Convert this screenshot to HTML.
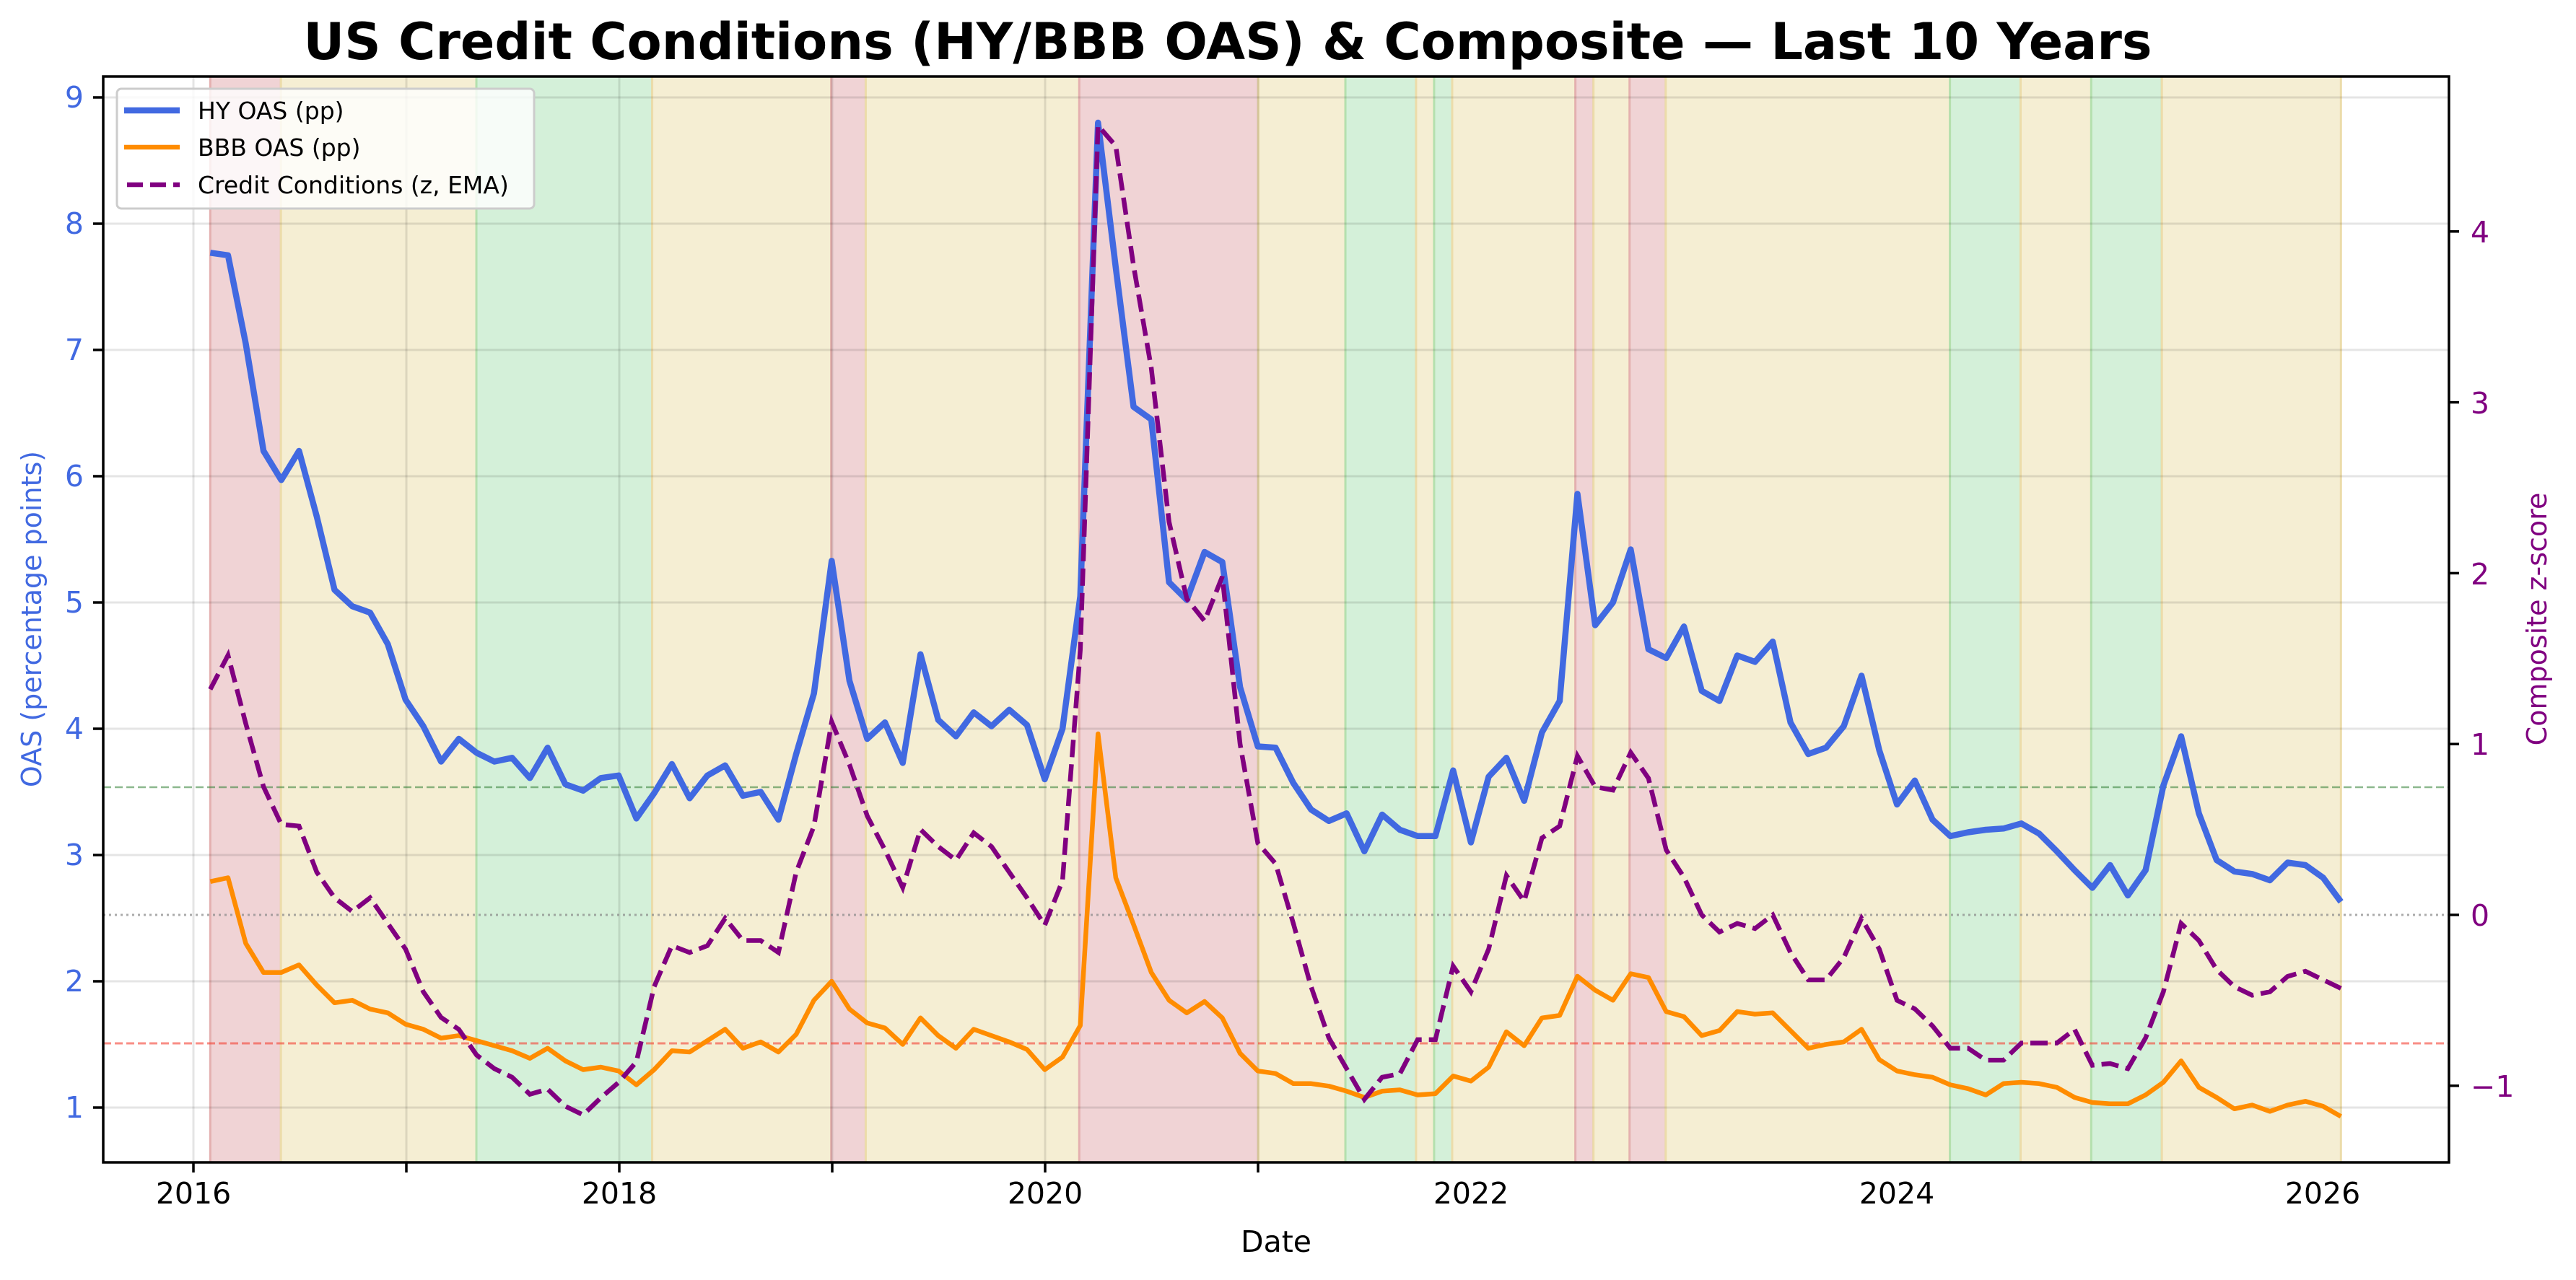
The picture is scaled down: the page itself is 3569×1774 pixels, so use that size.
<!DOCTYPE html>
<html><head><meta charset="utf-8"><style>
html,body{margin:0;padding:0;background:#fff;}
svg{display:block;font-family:"DejaVu Sans","Liberation Sans",sans-serif;}
</style></head><body>
<svg id="s" width="3569" height="1774" viewBox="0 0 3569 1774" xmlns="http://www.w3.org/2000/svg">
<rect width="3569" height="1774" fill="#fff"/>
<g id="bands"></g>
<g id="grid" stroke="#000" stroke-opacity="0.1" stroke-width="3"></g>
<line x1="143" y1="1091" x2="3393" y2="1091" stroke="#2e7d32" stroke-opacity="0.55" stroke-width="2.5" stroke-dasharray="11,5"/>
<line x1="143" y1="1268" x2="3393" y2="1268" stroke="#888" stroke-opacity="0.7" stroke-width="3" stroke-dasharray="3,5"/>
<line x1="143" y1="1446" x2="3393" y2="1446" stroke="#f44336" stroke-opacity="0.6" stroke-width="3" stroke-dasharray="11,5"/>
<g id="lines"></g>
<rect x="143" y="106" width="3250" height="1505" fill="none" stroke="#000" stroke-width="3.5"/>
<g id="ticks" stroke="#000" stroke-width="3.5"></g>
<g font-size="41" fill="#4169e1" text-anchor="end">
<text x="116" y="149">9</text><text x="116" y="324">8</text><text x="116" y="499">7</text><text x="116" y="674">6</text><text x="116" y="849">5</text><text x="116" y="1024">4</text><text x="116" y="1199">3</text><text x="116" y="1374">2</text><text x="116" y="1549">1</text>
</g>
<g font-size="41" fill="#800080">
<text x="3423" y="336">4</text><text x="3423" y="573">3</text><text x="3423" y="810">2</text><text x="3423" y="1046">1</text><text x="3423" y="1283">0</text><text x="3423" y="1520">−1</text>
</g>
<g font-size="41" fill="#000" text-anchor="middle">
<text x="268" y="1668">2016</text><text x="858" y="1668">2018</text><text x="1448" y="1668">2020</text><text x="2038" y="1668">2022</text><text x="2628" y="1668">2024</text><text x="3218" y="1668">2026</text>
<text x="1768" y="1735">Date</text>
</g>
<text x="1701" y="82" font-size="70" font-weight="bold" text-anchor="middle" fill="#000">US Credit Conditions (HY/BBB OAS) &amp; Composite — Last 10 Years</text>
<text transform="translate(57,858) rotate(-90)" font-size="38" fill="#4169e1" text-anchor="middle">OAS (percentage points)</text>
<text transform="translate(3528,858) rotate(-90)" font-size="38" fill="#800080" text-anchor="middle">Composite z-score</text>
<g>
<rect x="162" y="123" width="578" height="166" rx="6" fill="#fff" fill-opacity="0.8" stroke="#ccc" stroke-width="3"/>
<line x1="172" y1="153" x2="249" y2="153" stroke="#4169e1" stroke-width="8.5"/>
<line x1="172" y1="204" x2="249" y2="204" stroke="#ff8c00" stroke-width="6.5"/>
<line x1="176" y1="256" x2="249" y2="256" stroke="#800080" stroke-width="6.5" stroke-dasharray="22,10"/>
<g font-size="33" fill="#000"><text x="274" y="165">HY OAS (pp)</text><text x="274" y="216">BBB OAS (pp)</text><text x="274" y="268">Credit Conditions (z, EMA)</text></g>
</g>
</svg>
<script>
var NS="http://www.w3.org/2000/svg";
function el(p,t,a){var e=document.createElementNS(NS,t);for(var k in a)e.setAttribute(k,a[k]);document.getElementById(p).appendChild(e);return e;}
var S=2.276;
var bands=[[128,171,'r'],[171,290,'y'],[290,397,'g'],[397,506,'y'],[506,527,'r'],[527,657,'y'],[657,766,'r'],[766,819,'y'],[819,862,'g'],[862,873,'y'],[873,884,'g'],[884,959,'y'],[959,970,'r'],[970,992,'y'],[992,1014,'r'],[1014,1187,'y'],[1187,1230,'g'],[1230,1273,'y'],[1273,1316,'g'],[1316,1425,'y']];
var fc={r:'#f0d3d5',y:'#f5eed3',g:'#d4f0d9'},ec={r:'#e4b0b0',y:'#ecdcaa',g:'#b4e0ae'};
bands.forEach(function(b){var x1=b[0]*S,x2=b[1]*S;el('bands','rect',{x:x1,y:106,width:x2-x1,height:1505,fill:fc[b[2]]});
el('bands','line',{x1:x1,y1:106,x2:x1,y2:1611,stroke:ec[b[2]],'stroke-width':3});el('bands','line',{x1:x2,y1:106,x2:x2,y2:1611,stroke:ec[b[2]],'stroke-width':3});});
for(var i=0;i<6;i++){var x=268+i*295;el('grid','line',{x1:x,y1:106,x2:x,y2:1611});el('ticks','line',{x1:x,y1:1611,x2:x,y2:1625});}
for(var v=1;v<=9;v++){var y=135+(9-v)*175;el('grid','line',{x1:143,y1:y,x2:3393,y2:y});el('ticks','line',{x1:129,y1:y,x2:143,y2:y});}
for(var z=-1;z<=4;z++){var y=1268-236.8*z;el('ticks','line',{x1:3393,y1:y,x2:3407,y2:y});}
var hy=[7.77,7.75,7.05,6.2,5.97,6.2,5.68,5.1,4.97,4.92,4.67,4.23,4.02,3.74,3.92,3.81,3.74,3.77,3.61,3.85,3.56,3.51,3.61,3.63,3.29,3.49,3.72,3.45,3.63,3.71,3.47,3.5,3.28,3.8,4.28,5.33,4.38,3.92,4.05,3.73,4.59,4.07,3.94,4.13,4.02,4.15,4.03,3.6,4.0,5.05,8.8,7.65,6.55,6.45,5.16,5.02,5.4,5.32,4.33,3.86,3.85,3.57,3.36,3.27,3.33,3.03,3.32,3.2,3.15,3.15,3.67,3.1,3.62,3.77,3.43,3.97,4.22,5.86,4.82,5.0,5.42,4.63,4.56,4.81,4.3,4.22,4.58,4.53,4.69,4.05,3.8,3.85,4.02,4.42,3.83,3.4,3.59,3.28,3.15,3.18,3.2,3.21,3.25,3.17,3.03,2.88,2.74,2.92,2.68,2.88,3.55,3.94,3.33,2.96,2.87,2.85,2.8,2.94,2.92,2.82,2.63];
var bbb=[2.79,2.82,2.3,2.07,2.07,2.13,1.97,1.83,1.85,1.78,1.75,1.66,1.62,1.55,1.57,1.53,1.49,1.45,1.39,1.47,1.37,1.3,1.32,1.29,1.18,1.3,1.45,1.44,1.53,1.62,1.47,1.52,1.44,1.58,1.85,2.0,1.78,1.67,1.63,1.5,1.71,1.57,1.47,1.62,1.57,1.52,1.46,1.3,1.4,1.65,3.96,2.82,2.45,2.07,1.85,1.75,1.84,1.71,1.43,1.29,1.27,1.19,1.19,1.17,1.13,1.08,1.13,1.14,1.1,1.11,1.25,1.21,1.32,1.6,1.49,1.71,1.73,2.04,1.93,1.85,2.06,2.03,1.76,1.72,1.57,1.61,1.76,1.74,1.75,1.61,1.47,1.5,1.52,1.62,1.38,1.29,1.26,1.24,1.18,1.15,1.1,1.19,1.2,1.19,1.16,1.08,1.04,1.03,1.03,1.1,1.2,1.37,1.16,1.08,0.99,1.02,0.97,1.02,1.05,1.01,0.93];
var cz=[1.32,1.52,1.12,0.75,0.53,0.52,0.25,0.1,0.02,0.1,-0.05,-0.2,-0.45,-0.6,-0.67,-0.82,-0.9,-0.95,-1.05,-1.02,-1.12,-1.17,-1.07,-0.98,-0.86,-0.42,-0.18,-0.22,-0.18,-0.02,-0.15,-0.15,-0.22,0.25,0.52,1.13,0.88,0.58,0.38,0.16,0.5,0.4,0.32,0.48,0.4,0.25,0.1,-0.06,0.2,1.55,4.62,4.5,3.8,3.2,2.3,1.85,1.72,1.98,1.0,0.42,0.3,-0.05,-0.42,-0.72,-0.9,-1.08,-0.95,-0.93,-0.73,-0.73,-0.3,-0.45,-0.2,0.23,0.08,0.45,0.52,0.93,0.75,0.73,0.95,0.8,0.38,0.22,0.0,-0.1,-0.05,-0.08,0.0,-0.22,-0.38,-0.38,-0.25,-0.02,-0.2,-0.5,-0.55,-0.65,-0.78,-0.78,-0.85,-0.85,-0.75,-0.75,-0.75,-0.67,-0.88,-0.87,-0.9,-0.72,-0.45,-0.05,-0.15,-0.32,-0.42,-0.47,-0.45,-0.36,-0.33,-0.38,-0.43];
var X0=128*S,X1=1425*S;
function path(arr,fy){var n=arr.length,d='';for(var i=0;i<n;i++){var x=X0+(X1-X0)*i/(n-1);d+=(i?'L':'M')+x.toFixed(1)+','+fy(arr[i]).toFixed(1);}return d;}
function ly(v){return 135+(9-v)*175;}function ry(z){return 1268-236.8*z;}
el('lines','path',{d:path(hy,ly),fill:'none',stroke:'#4169e1','stroke-width':8.5,'stroke-linejoin':'round'});
el('lines','path',{d:path(bbb,ly),fill:'none',stroke:'#ff8c00','stroke-width':6.5,'stroke-linejoin':'round'});
el('lines','path',{d:path(cz,ry),fill:'none',stroke:'#800080','stroke-width':6.5,'stroke-dasharray':'24,10'});
</script>
</body></html>
